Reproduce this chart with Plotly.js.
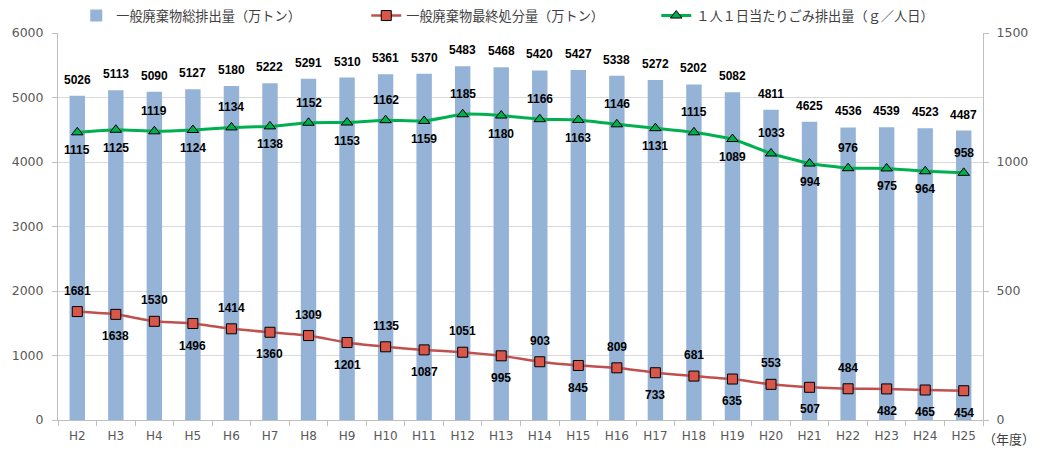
<!DOCTYPE html>
<html>
<head>
<meta charset="utf-8">
<script src="https://cdn.plot.ly/plotly-3.0.1.min.js"></script>
<style>html,body{margin:0;padding:0;background:#fff;}</style>
</head>
<body>
<div id="chart" style="width:1037px;height:451px;"></div>
<script>
const years = ["H2","H3","H4","H5","H6","H7","H8","H9","H10","H11","H12","H13","H14","H15","H16","H17","H18","H19","H20","H21","H22","H23","H24","H25"];
const totalWaste = [5026,5113,5090,5127,5180,5222,5291,5310,5361,5370,5483,5468,5420,5427,5338,5272,5202,5082,4811,4625,4536,4539,4523,4487];
const finalDisposal = [1681,1638,1530,1496,1414,1360,1309,1201,1135,1087,1051,995,903,845,809,733,681,635,553,507,484,482,465,454];
const perCapita = [1115,1125,1119,1124,1134,1138,1152,1153,1162,1159,1185,1180,1166,1163,1146,1131,1115,1089,1033,994,976,975,964,958];
// label placement: "a" above, "b" below
const finalPos = ["a","b","a","b","a","b","a","b","a","b","a","b","a","b","a","b","a","b","a","b","a","b","b","b"];
const perCapitaPos = ["b","b","a","b","a","b","a","b","a","b","a","b","a","b","a","b","a","b","a","b","a","b","b","a"];

const labelFont = {family: "Liberation Sans, Arial, sans-serif", size: 12, color: "#000000", weight: "bold"};
const jpFont = "Noto Sans CJK JP, sans-serif";
const tickFontFamily = "DejaVu Sans, Verdana, sans-serif";

const traces = [
  {
    type: "bar", name: "一般廃棄物総排出量（万トン）", x: years, y: totalWaste,
    marker: {color: "#95b3d7"}, yaxis: "y", hoverinfo: "x+y"
  },
  {
    type: "scatter", mode: "lines+markers", name: "一般廃棄物最終処分量（万トン）", x: years, y: finalDisposal,
    line: {color: "#c0504d", width: 2.5, shape: "spline", smoothing: 0.4},
    marker: {symbol: "square", size: 10, color: "#d9574a", line: {color: "#000000", width: 1}},
    yaxis: "y"
  },
  {
    type: "scatter", mode: "lines+markers", name: "１人１日当たりごみ排出量（ｇ／人日）", x: years, y: perCapita,
    line: {color: "#00b050", width: 3, shape: "spline", smoothing: 0.4},
    marker: {symbol: "triangle-up", size: 10, color: "#00b050", line: {color: "#000000", width: 1}},
    yaxis: "y2"
  }
];

const annotations = [];
years.forEach((yr, i) => {
  annotations.push({x: yr, y: totalWaste[i], xref: "x", yref: "y", text: String(totalWaste[i]),
    showarrow: false, yshift: 16, font: labelFont});
  annotations.push({x: yr, y: finalDisposal[i], xref: "x", yref: "y", text: String(finalDisposal[i]),
    showarrow: false, yshift: finalPos[i] === "a" ? 21 : -22, font: labelFont});
  annotations.push({x: yr, y: perCapita[i], xref: "x", yref: "y2", text: String(perCapita[i]),
    showarrow: false, yshift: perCapitaPos[i] === "a" ? 20 : -18, font: labelFont});
});
annotations.push({x: 1.0584, y: -0.047, xref: "paper", yref: "paper", xanchor: "right", yanchor: "middle",
  text: "（年度）", showarrow: false, font: {family: jpFont, size: 13, color: "#404040"}});

const layout = {
  width: 1037, height: 451,
  margin: {l: 58, r: 54, t: 33, b: 31, pad: 0, autoexpand: false},
  paper_bgcolor: "#ffffff", plot_bgcolor: "#ffffff",
  bargap: 0.6,
  showlegend: true,
  legend: {orientation: "h", x: 0.49, xanchor: "center", y: 1.044, yanchor: "middle",
    entrywidth: 245, font: {family: jpFont, size: 13.2, color: "#404040"}, itemclick: false,
    tracegroupgap: 0},
  xaxis: {type: "category", categoryorder: "array", categoryarray: years, range: [-0.5, 23.5],
    showline: true, linecolor: "#bfbfbf", linewidth: 1, ticks: "outside", tickson: "boundaries",
    ticklen: 5, tickcolor: "#bfbfbf", showgrid: false, ticklabelstandoff: 5,
    tickfont: {family: tickFontFamily, size: 12, color: "#595959"}},
  yaxis: {range: [0, 6000], dtick: 1000, showgrid: true, gridcolor: "#d9d9d9", gridwidth: 1,
    showline: true, linecolor: "#bfbfbf", ticks: "outside", ticklen: 5, tickcolor: "#bfbfbf",
    ticklabelstandoff: 6,
    zeroline: false, tickfont: {family: tickFontFamily, size: 12.5, color: "#595959"}},
  yaxis2: {range: [0, 1500], dtick: 500, overlaying: "y", side: "right", showgrid: false,
    showline: true, linecolor: "#bfbfbf", ticks: "outside", ticklen: 5, tickcolor: "#bfbfbf",
    ticklabelstandoff: 5,
    zeroline: false, tickfont: {family: tickFontFamily, size: 12.5, color: "#595959"}},
  annotations: annotations
};

Plotly.newPlot("chart", traces, layout, {displayModeBar: false, staticPlot: true});
</script>
</body>
</html>
